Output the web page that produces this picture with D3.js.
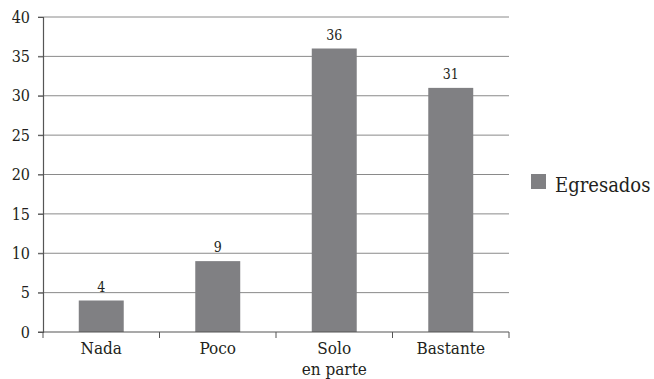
<!DOCTYPE html>
<html>
<head>
<meta charset="utf-8">
<script src="https://cdn.jsdelivr.net/npm/d3@7"></script>
<style>
  html, body { margin: 0; padding: 0; background: #fff; }
  svg { display: block; }
</style>
</head>
<body>
<svg id="chart" width="654" height="379"></svg>
<script>
// Survey answers and counts
const categories = ["Nada", "Poco", "Solo\nen parte", "Bastante"];
const egresados = [4, 9, 36, 31];
const seriesName = "Egresados";
const yTicks = [0, 5, 10, 15, 20, 25, 30, 35, 40];

const serif = "'DejaVu Serif Condensed', 'DejaVu Serif', serif";
const textColor = "#231f20";

const svg = d3.select("#chart");
const plot = { left: 43, right: 509, top: 17, bottom: 332 };

const x = d3.scaleBand()
  .domain(categories)
  .range([plot.left, plot.right])
  .padding(0);

const y = d3.scaleLinear()
  .domain([0, 40])
  .range([plot.bottom, plot.top]);

const barColor = "#808083";
const barWidth = x.bandwidth() * 0.386;

// horizontal gridlines
svg.append("g")
  .selectAll("line")
  .data(yTicks.filter(d => d > 0))
  .join("line")
  .attr("x1", plot.left - 5)
  .attr("x2", plot.right)
  .attr("y1", d => y(d))
  .attr("y2", d => y(d))
  .attr("stroke", "#8a8a8a")
  .attr("stroke-width", 1);

// bars
svg.append("g")
  .selectAll("rect")
  .data(categories)
  .join("rect")
  .attr("x", d => x(d) + (x.bandwidth() - barWidth) / 2)
  .attr("y", (d, i) => y(egresados[i]))
  .attr("width", barWidth)
  .attr("height", (d, i) => y(0) - y(egresados[i]))
  .attr("fill", barColor);

// value labels
svg.append("g")
  .selectAll("text")
  .data(categories)
  .join("text")
  .attr("x", d => x(d) + x.bandwidth() / 2)
  .attr("y", (d, i) => y(egresados[i]) - 9)
  .attr("text-anchor", "middle")
  .attr("font-family", serif)
  .attr("font-size", 14)
  .attr("fill", textColor)
  .text((d, i) => egresados[i]);

// y axis
const yAxis = svg.append("g")
  .attr("transform", `translate(${plot.left},0)`)
  .call(d3.axisLeft(y).tickValues(yTicks).tickSize(5).tickPadding(8).tickFormat(d3.format("d")));
yAxis.attr("font-family", serif).attr("font-size", 16);
yAxis.select(".domain").attr("stroke", "#555").attr("stroke-width", 1.2);
yAxis.selectAll(".tick line").attr("stroke", "#555");
yAxis.selectAll(".tick text").attr("fill", textColor);

// x axis with ticks at band boundaries
const xAxisG = svg.append("g");
xAxisG.append("line")
  .attr("x1", plot.left - 5).attr("x2", plot.right)
  .attr("y1", plot.bottom).attr("y2", plot.bottom)
  .attr("stroke", "#555").attr("stroke-width", 1.2);
const boundaries = categories.map(d => x(d)).concat([plot.right]);
xAxisG.selectAll("line.tk")
  .data(boundaries)
  .join("line")
  .attr("class", "tk")
  .attr("x1", d => d).attr("x2", d => d)
  .attr("y1", plot.bottom).attr("y2", plot.bottom + 6)
  .attr("stroke", "#555");

const labels = svg.append("g")
  .selectAll("text")
  .data(categories)
  .join("text")
  .attr("x", d => x(d) + x.bandwidth() / 2)
  .attr("y", 354)
  .attr("text-anchor", "middle")
  .attr("font-family", serif)
  .attr("font-size", 17)
  .attr("fill", textColor);
labels.each(function(d) {
  const t = d3.select(this);
  d.split("\n").forEach((line, i) => {
    t.append("tspan")
      .attr("x", x(d) + x.bandwidth() / 2)
      .attr("dy", i === 0 ? 0 : 21)
      .text(line);
  });
});

// legend
const legend = svg.append("g");
legend.append("rect")
  .attr("x", 531).attr("y", 174)
  .attr("width", 15).attr("height", 15)
  .attr("fill", barColor);
legend.append("text")
  .attr("x", 555).attr("y", 192)
  .attr("font-family", serif)
  .attr("font-size", 20)
  .attr("fill", textColor)
  .text(seriesName);
</script>
</body>
</html>
